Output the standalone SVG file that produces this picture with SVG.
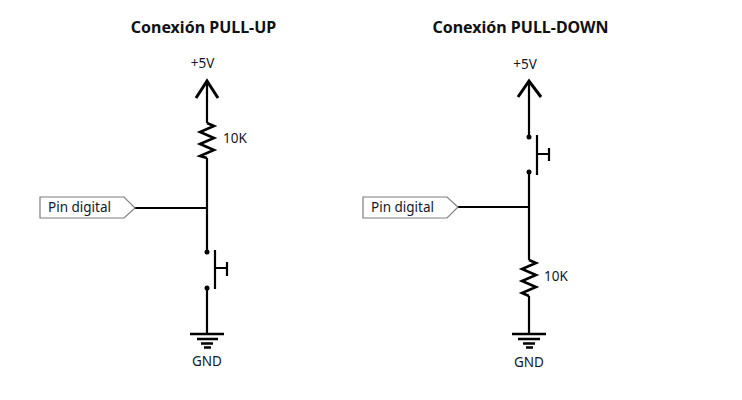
<svg xmlns="http://www.w3.org/2000/svg" width="742" height="400" viewBox="0 0 742 400">
<style>
text{font-family:"Noto Sans","Open Sans","Liberation Sans",sans-serif;fill:#10182a}
.t{font-size:16px;font-weight:700;text-anchor:middle;fill:#111}
.l{font-size:13.500px}
.m{font-size:13.500px;text-anchor:middle}
.w{fill:none;stroke:#000;stroke-width:2.200}
.h{fill:none;stroke:#000;stroke-width:3}
.z{fill:none;stroke:#000;stroke-width:2.600;stroke-linejoin:miter}
.g{fill:none;stroke:#000;stroke-width:2.500}
.p{fill:#fff;stroke:#7f7f7f;stroke-width:1.200}
.d{fill:#000}
</style>
<rect width="742" height="400" fill="#fff"/>
<text class="t" x="203.500" y="33">Conexión PULL-UP</text>
<text class="t" x="520.500" y="33">Conexión PULL-DOWN</text>
<g id="connectors">
<path class="w" d="M207 84V123M207 158V252M135 208H207M207 288V334"/>
<path class="w" d="M529 84V137M529 172V260M458 207H529M529 296V334"/>
</g>
<g id="vcc-left"><text class="m" x="202.500" y="68">+5V</text><path class="h" d="M196 98L207 81L218 98"/></g>
<g id="r-left"><path class="z" d="M207 123L214 126L200 132L214 138L200 144L214 150L200 156L207 158"/><text class="l" x="223" y="143">10K</text></g>
<g id="pin-left"><polygon class="p" points="40,197 124,197 135,208 124,218 40,218"/><text class="l" x="48" y="212">Pin digital</text></g>
<g id="sw-left"><circle class="d" cx="207" cy="252" r="2.500"/><circle class="d" cx="207" cy="288" r="2.500"/><path class="w" d="M215 250V289M215 268H227M227 262V276"/></g>
<g id="gnd-left"><path class="g" d="M190 334H224M197 339H218M201 343.500H213M204 347.500H211"/><text class="m" x="207" y="366">GND</text></g>
<g id="vcc-right"><text class="m" x="525" y="69">+5V</text><path class="h" d="M518 97L529 81L541 97"/></g>
<g id="sw-right"><circle class="d" cx="529" cy="137" r="2.500"/><circle class="d" cx="529" cy="172" r="2.500"/><path class="w" d="M537 135V175M537 154H549M549 148V161"/></g>
<g id="pin-right"><polygon class="p" points="363,197 447,197 458,207 447,218 363,218"/><text class="l" x="371" y="212">Pin digital</text></g>
<g id="r-right"><path class="z" d="M529 260L536 263L522 269L536 275L522 281L536 287L522 293L529 296"/><text class="l" x="544" y="281">10K</text></g>
<g id="gnd-right"><path class="g" d="M512 334H546M518 339H540M523 343.500H535M526 347.500H533"/><text class="m" x="529" y="367">GND</text></g>
</svg>
